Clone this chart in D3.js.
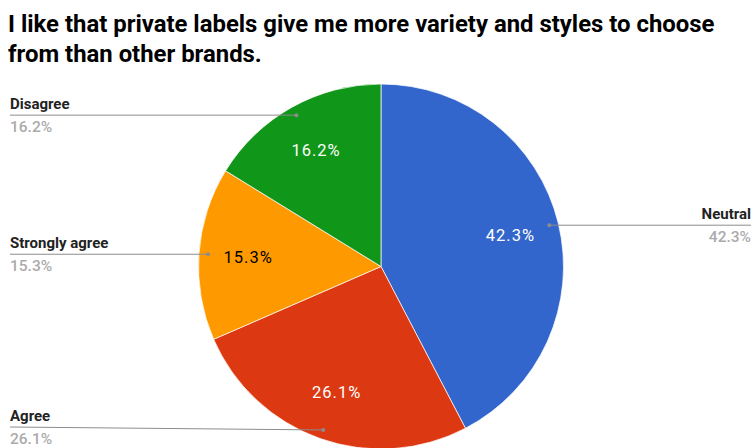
<!DOCTYPE html>
<html>
<head>
<meta charset="utf-8">
<script src="https://cdn.jsdelivr.net/npm/d3@7"></script>
<style>
  html, body { margin: 0; padding: 0; background: #fff; }
  svg { display: block; font-family: Roboto, "Noto Sans", sans-serif; }
</style>
</head>
<body>
<svg id="chart" width="755" height="448"></svg>
<script>
// Survey answers, drawn clockwise from 12 o'clock
const categories = ["Neutral", "Agree", "Strongly agree", "Disagree"];
const shares = [42.3, 26.1, 15.3, 16.2];
const colors = ["#3366cc", "#dc3912", "#ff9900", "#109618"];
const innerTextColors = ["#ffffff", "#ffffff", "#000000", "#ffffff"];
const titleLines = [
  "I like that private labels give me more variety and styles to choose",
  "from than other brands."
];

const W = 755, H = 448;
const cx = 381, cy = 266.5, R = 182.5;

const svg = d3.select("#chart");

// Title
const title = svg.append("text")
  .attr("x", 8)
  .attr("font-size", 23.9)
  .attr("font-weight", 700)
  .attr("fill", "#000");
title.selectAll("tspan")
  .data(titleLines)
  .join("tspan")
  .attr("x", 8)
  .attr("y", (d, i) => 32 + i * 29.5)
  .text(d => d);

const data = categories.map((c, i) => ({ name: c, value: shares[i], color: colors[i], ink: innerTextColors[i] }));

const pie = d3.pie().value(d => d.value).sort(null);
const arcs = pie(data);

const arc = d3.arc().innerRadius(0).outerRadius(R);
const labelArc = d3.arc().innerRadius(R * 0.73).outerRadius(R * 0.73);
const dotArc = d3.arc().innerRadius(R * 0.95).outerRadius(R * 0.95);

const g = svg.append("g").attr("transform", `translate(${cx},${cy})`);

g.selectAll("path.slice")
  .data(arcs)
  .join("path")
  .attr("class", "slice")
  .attr("d", arc)
  .attr("fill", d => d.data.color)
  .attr("stroke", "#ffffff")
  .attr("stroke-width", 0.7);

// Percent labels inside slices
g.selectAll("text.inner")
  .data(arcs)
  .join("text")
  .attr("class", "inner")
  .attr("transform", d => `translate(${labelArc.centroid(d)})`)
  .attr("text-anchor", "middle")
  .attr("dy", "0.36em")
  .attr("font-size", 16.5)
  .attr("letter-spacing", 1)
  .attr("fill", d => d.data.ink)
  .text(d => d.data.value.toFixed(1) + "%");

// Leader lines and outside legend labels
const leftX = 10, rightX = 751;
const callouts = svg.append("g");
arcs.forEach(d => {
  const [dx, dy] = dotArc.centroid(d);
  const px = cx + dx, py = cy + dy;
  const mid = (d.startAngle + d.endAngle) / 2;
  const right = mid < Math.PI;
  const endX = right ? rightX : leftX;
  const lineY = Math.min(py, H - 21);

  callouts.append("path")
    .attr("d", `M${endX},${lineY}L${px},${py}`)
    .attr("fill", "none")
    .attr("stroke", "#8c8c8c")
    .attr("stroke-width", 1);
  callouts.append("circle")
    .attr("cx", px).attr("cy", py).attr("r", 2)
    .attr("fill", "#8c8c8c");

  callouts.append("text")
    .attr("x", endX)
    .attr("y", lineY - 6.5)
    .attr("text-anchor", right ? "end" : "start")
    .attr("font-size", 15)
    .attr("font-weight", 700)
    .attr("fill", "#222")
    .text(d.data.name);
  callouts.append("text")
    .attr("x", endX)
    .attr("y", lineY + 17)
    .attr("text-anchor", right ? "end" : "start")
    .attr("font-size", 15.5)
    .attr("font-weight", 500)
    .attr("fill", "#ababab")
    .text(d.data.value.toFixed(1) + "%");
});
</script>
</body>
</html>
